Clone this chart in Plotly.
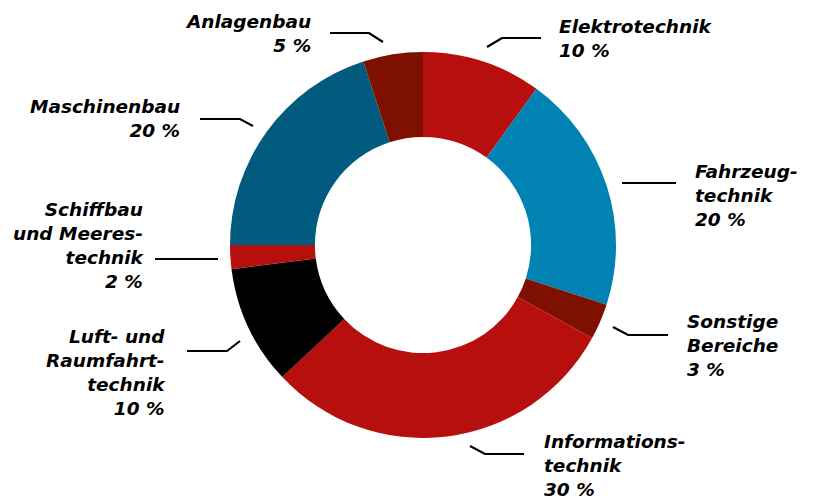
import plotly.graph_objects as go

labels = ["Elektrotechnik", "Fahrzeugtechnik", "Sonstige Bereiche", "Informationstechnik",
          "Luft- und Raumfahrttechnik", "Schiffbau und Meerestechnik", "Maschinenbau", "Anlagenbau"]
values = [10, 20, 3, 30, 10, 2, 20, 5]
label_text = ["Elektrotechnik", "Fahrzeug-<br>technik", "Sonstige<br>Bereiche", "Informations-<br>technik",
              "Luft- und<br>Raumfahrt-<br>technik", "Schiffbau<br>und Meeres-<br>technik", "Maschinenbau", "Anlagenbau"]
colors = ["#B60F0E", "#0082B2", "#7E1000", "#B60F0E", "#000000", "#B60F0E", "#005B7E", "#7E1000"]

W, H = 817, 500
OFF = 8  # page body margin
# layout: label anchor (page px: x edge, cap-top y) and leader-line polylines (page px)
label_pos = [
    (557, 20, "left"), (693, 165, "left"), (685, 315, "left"), (542, 435, "left"),
    (168, 330, "right"), (147, 203, "right"), (182, 100, "right"), (313, 15, "right"),
]
leaders = [
    [(487, 47), (502, 38), (541, 38)],
    [(622, 183), (676, 183)],
    [(613, 327), (628, 335), (668, 335)],
    [(470, 446), (485, 454), (524, 454)],
    [(240, 341), (227, 351), (187, 351)],
    [(218, 259), (155, 259)],
    [(253, 126), (240, 119), (200, 119)],
    [(383, 42), (369, 33), (330, 33)],
]

def px(x):
    return (x - OFF) / W

def py(y):
    return 1 - (y - OFF) / H

cx, cy, r = 423, 245, 193
fig = go.Figure(go.Pie(
    labels=labels, values=values, sort=False, direction="clockwise", rotation=0,
    hole=0.56, marker=dict(colors=colors, line=dict(width=0)),
    textinfo="none", hoverinfo="label+percent",
    domain=dict(x=[px(cx - r), px(cx + r)], y=[py(cy + r), py(cy - r)]),
))

font = dict(family="DejaVu Sans, sans-serif", size=18.5, color="#000000", weight="bold", style="italic")
annotations = []
for (x, y, side), txt, v in zip(label_pos, label_text, values):
    annotations.append(dict(
        x=px(x), y=py(y - 6), xref="paper", yref="paper",
        xanchor="left" if side == "left" else "right", yanchor="top",
        align=side, showarrow=False, text=f"{txt}<br>{v} %", font=font,
    ))

shapes = []
for pts in leaders:
    path = "M " + " L ".join(f"{px(a)},{py(b)}" for a, b in pts)
    shapes.append(dict(type="path", path=path, xref="paper", yref="paper",
                       line=dict(color="#000000", width=2.2)))

fig.update_layout(
    width=W, height=H, margin=dict(l=0, r=0, t=0, b=0),
    paper_bgcolor="#FFFFFF", plot_bgcolor="#FFFFFF", showlegend=False,
    annotations=annotations, shapes=shapes,
)
fig.write_html("out.html")
